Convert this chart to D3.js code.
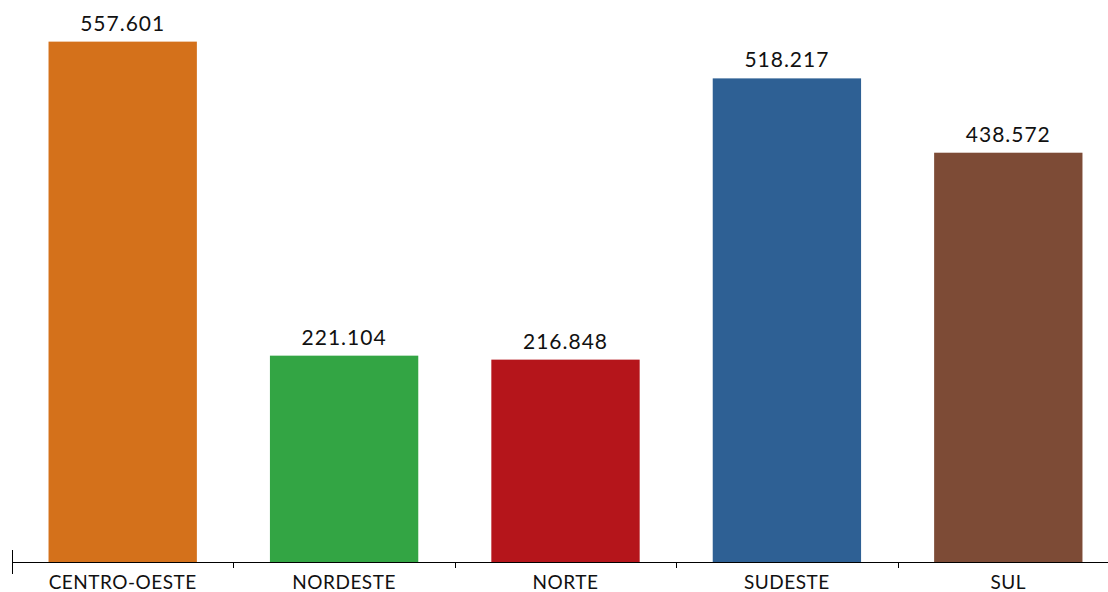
<!DOCTYPE html>
<html>
<head>
<meta charset="utf-8">
<script src="https://cdn.jsdelivr.net/npm/d3@7"></script>
<style>
  body { margin: 0; background: #fff; }
  svg { display: block; font-family: 'Lato', 'Open Sans', sans-serif; }
  .axis path, .axis line { stroke: #000; }
  .axis text { font-size: 19px; fill: #111; letter-spacing: 0.5px; }
  .value { font-size: 21px; fill: #111; letter-spacing: 1px; }
</style>
</head>
<body>
<svg class="chart" width="1108" height="592"></svg>
<script>
const regions = ['CENTRO-OESTE', 'NORDESTE', 'NORTE', 'SUDESTE', 'SUL'];
const totals = [557.601, 221.104, 216.848, 518.217, 438.572];
const barColors = ['#d4711b', '#33a544', '#b5151b', '#2e6094', '#7d4b36'];

const data = regions.map((r, i) => ({ region: r, total: totals[i], color: barColors[i] }));

var svg = d3.select('.chart');

// band range runs a bit past the right edge, like the original
var x = d3.scaleBand()
    .domain(regions)
    .range([12, 1119]);

var xBar = d3.scaleBand()
    .domain(regions)
    .range([12, 1119])
    .paddingInner(0.33)
    .paddingOuter(0.165);

var y = d3.scaleLinear()
    .domain([0, d3.max(totals) * 1.08])
    .range([562, 0]);

svg.selectAll('.bar')
    .data(data)
    .enter().append('rect')
    .attr('class', 'bar')
    .attr('x', d => xBar(d.region))
    .attr('width', xBar.bandwidth())
    .attr('y', d => y(d.total))
    .attr('height', d => y(0) - y(d.total))
    .attr('fill', d => d.color);

svg.selectAll('.value')
    .data(data)
    .enter().append('text')
    .attr('class', 'value')
    .attr('x', d => xBar(d.region) + xBar.bandwidth() / 2)
    .attr('y', d => y(d.total) - 11)
    .attr('text-anchor', 'middle')
    .text(d => d3.format('.3f')(d.total));

// axis with ticks on the band edges
var edges = regions.map(r => x(r));
var xAxis = svg.append('g')
    .attr('class', 'axis')
    .attr('transform', 'translate(0,' + y(0) + ')');

xAxis.append('line')
    .attr('x1', x.range()[0]).attr('x2', x.range()[1])
    .attr('shape-rendering', 'crispEdges');

xAxis.selectAll('.edge')
    .data(edges)
    .enter().append('line')
    .attr('class', 'edge')
    .attr('x1', d => Math.round(d) + 0.5).attr('x2', d => Math.round(d) + 0.5)
    .attr('y1', (d, i) => i === 0 ? -12 : 0)
    .attr('y2', (d, i) => i === 0 ? 12 : 6);

xAxis.selectAll('.lbl')
    .data(regions)
    .enter().append('text')
    .attr('x', d => x(d) + x.bandwidth() / 2)
    .attr('y', 27)
    .attr('text-anchor', 'middle')
    .text(d => d);
</script>
</body>
</html>
